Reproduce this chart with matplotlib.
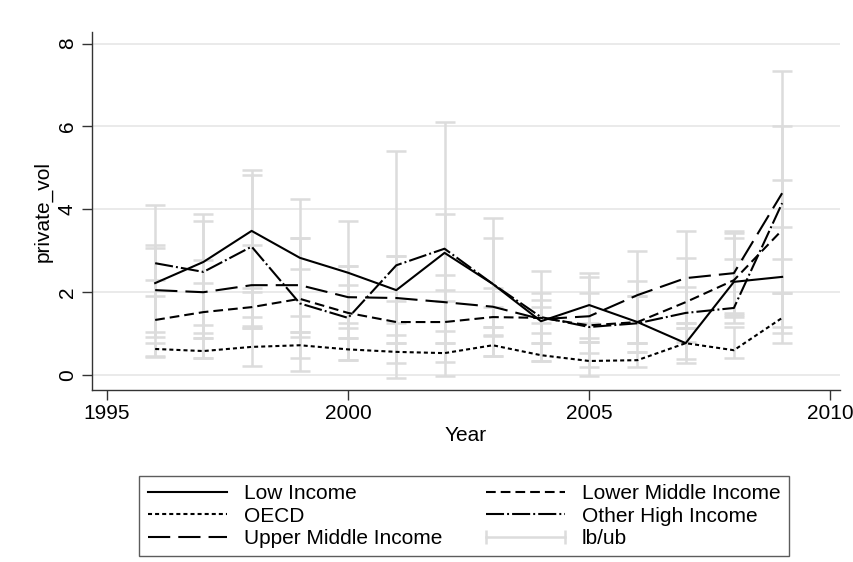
"""
Private volatility by income group, 1996-2009, with lb/ub range caps
"""
import numpy as np
import matplotlib
matplotlib.use('Agg')
import matplotlib.pyplot as plt
from matplotlib.lines import Line2D
from matplotlib.legend_handler import HandlerLine2D

plt.rcParams['font.family'] = ['Liberation Sans', 'DejaVu Sans']
plt.rcParams['lines.scale_dashes'] = False

years = np.arange(1996, 2010)

low_income = [2.22, 2.73, 3.48, 2.83, 2.47, 2.05, 2.95, 2.20, 1.30, 1.69, 1.28, 0.77, 2.25, 2.37]
lower_middle = [1.33, 1.52, 1.64, 1.84, 1.50, 1.28, 1.28, 1.40, 1.38, 1.20, 1.28, 1.76, 2.29, 3.50]
oecd = [0.63, 0.58, 0.68, 0.72, 0.62, 0.56, 0.53, 0.72, 0.48, 0.34, 0.36, 0.77, 0.60, 1.38]
other_high = [2.70, 2.49, 3.10, 1.73, 1.38, 2.65, 3.05, 2.20, 1.40, 1.16, 1.25, 1.50, 1.62, 4.15]
upper_middle = [2.05, 2.00, 2.17, 2.17, 1.88, 1.86, 1.76, 1.65, 1.35, 1.42, 1.93, 2.34, 2.46, 4.39]

# lower / upper bounds per group
low_lb = [0.43, 0.41, 2.00, 1.42, 1.26, 1.26, -0.02, 0.45, 0.33, 0.89, 0.56, 0.30, 1.40, 1.01]
low_ub = [4.10, 3.89, 4.95, 4.25, 3.72, 2.87, 6.11, 3.79, 2.51, 2.46, 2.26, 1.26, 3.30, 3.57]
lm_lb = [0.92, 0.89, 1.18, 0.92, 0.89, 0.77, 0.77, 1.15, 1.26, 0.53, 0.77, 1.13, 1.50, 2.80]
lm_ub = [1.90, 2.22, 2.10, 2.56, 2.17, 1.80, 1.80, 1.65, 1.64, 1.26, 1.91, 2.83, 3.43, 4.71]
oecd_lb = [0.45, 0.41, 0.22, 0.41, 0.36, 0.29, 0.31, 0.45, 0.33, -0.03, 0.19, 0.40, 0.41, 0.77]
oecd_ub = [0.77, 0.89, 1.13, 1.04, 0.89, 0.77, 0.77, 0.95, 0.77, 0.80, 0.56, 1.13, 1.16, 1.98]
oh_lb = [2.30, 1.21, 1.40, 0.10, 0.36, -0.07, 2.05, 1.15, 1.01, 0.19, 0.77, 0.80, 1.26, 1.98]
oh_ub = [3.14, 3.72, 4.83, 3.30, 2.63, 5.41, 3.89, 3.30, 1.81, 1.98, 1.91, 2.13, 2.80, 6.00]
um_lb = [1.04, 1.02, 1.13, 1.04, 1.13, 0.97, 1.06, 0.97, 0.77, 0.80, 0.77, 1.26, 1.45, 1.16]
um_ub = [3.07, 2.78, 3.14, 3.30, 2.63, 2.87, 2.42, 2.10, 1.98, 2.37, 3.00, 3.48, 3.48, 7.34]

x_ticks = [1995, 2000, 2005, 2010]
y_ticks = [0, 2, 4, 6, 8]

BAR_GREY = '#dcdcdc'
GRID_GREY = '#e6e6e6'
AXIS_COL = '#333333'
FS = 15

fig = plt.figure(figsize=(8.54, 5.62), dpi=100)
ax = fig.add_axes([92/854, 1 - 390/562, 748/854, 358/562])

# range caps first so the lines sit on top
bounds = [(low_lb, low_ub), (lm_lb, lm_ub), (oecd_lb, oecd_ub),
          (oh_lb, oh_ub), (um_lb, um_ub)]
for lb, ub in bounds:
    lb = np.array(lb)
    ub = np.array(ub)
    mid = (lb + ub) / 2
    ax.errorbar(years, mid, yerr=(ub - lb) / 2, fmt='none', ecolor=BAR_GREY,
                elinewidth=1.8, capsize=7, capthick=1.8, zorder=2)

line_kw = dict(color='black', linewidth=1.5, zorder=3)
h_low, = ax.plot(years, low_income, linestyle='-', **line_kw)
h_lm, = ax.plot(years, lower_middle, linestyle=(0, (7, 3.6)), **line_kw)
h_oecd, = ax.plot(years, oecd, linestyle=(0, (2.9, 2.2)), **line_kw)
h_oh, = ax.plot(years, other_high, linestyle=(0, (13, 2.2, 1.4, 2.2)), **line_kw)
h_um, = ax.plot(years, upper_middle, linestyle=(0, (16, 5.8)), **line_kw)
h_bar = Line2D([], [], color=BAR_GREY, linewidth=1.8, marker='|',
               markersize=10, markeredgewidth=1.8)

ax.set_xlim(1994.69, 2010.2)
ax.set_ylim(-0.36, 8.28)
ax.set_xticks(x_ticks)
ax.set_yticks(y_ticks)

for y in y_ticks:
    ax.axhline(y, color=GRID_GREY, linewidth=1.2, zorder=1)

for side in ['top', 'right']:
    ax.spines[side].set_visible(False)
for side in ['left', 'bottom']:
    ax.spines[side].set_color(AXIS_COL)
    ax.spines[side].set_linewidth(1.0)

ax.tick_params(axis='both', direction='out', length=7, width=1.0,
               color=AXIS_COL, labelsize=FS)
ax.tick_params(axis='y', pad=4)
ax.tick_params(axis='x', pad=3)
for lab in ax.get_yticklabels():
    lab.set_rotation(90)
    lab.set_va('center')

ax.set_xlabel('Year', fontsize=FS, labelpad=2)
ax.set_ylabel('private_vol', fontsize=FS)
ax.yaxis.set_label_coords(-0.052, 0.5)

handles = [h_low, h_oecd, h_um, h_lm, h_oh, h_bar]
labels = ['Low Income', 'OECD', 'Upper Middle Income',
          'Lower Middle Income', 'Other High Income', 'lb/ub']
leg = fig.legend(handles, labels, loc='center', ncol=2,
                 bbox_to_anchor=(464/854, 1 - 516/562),
                 fontsize=FS, frameon=True, fancybox=False,
                 edgecolor=AXIS_COL, handlelength=3.8, handletextpad=0.8,
                 columnspacing=2.1, labelspacing=0.16, borderpad=0.4,
                 handler_map={h_bar: HandlerLine2D(numpoints=2, marker_pad=0)})
leg.get_frame().set_linewidth(1.0)

fig.savefig('out.png', dpi=100)
